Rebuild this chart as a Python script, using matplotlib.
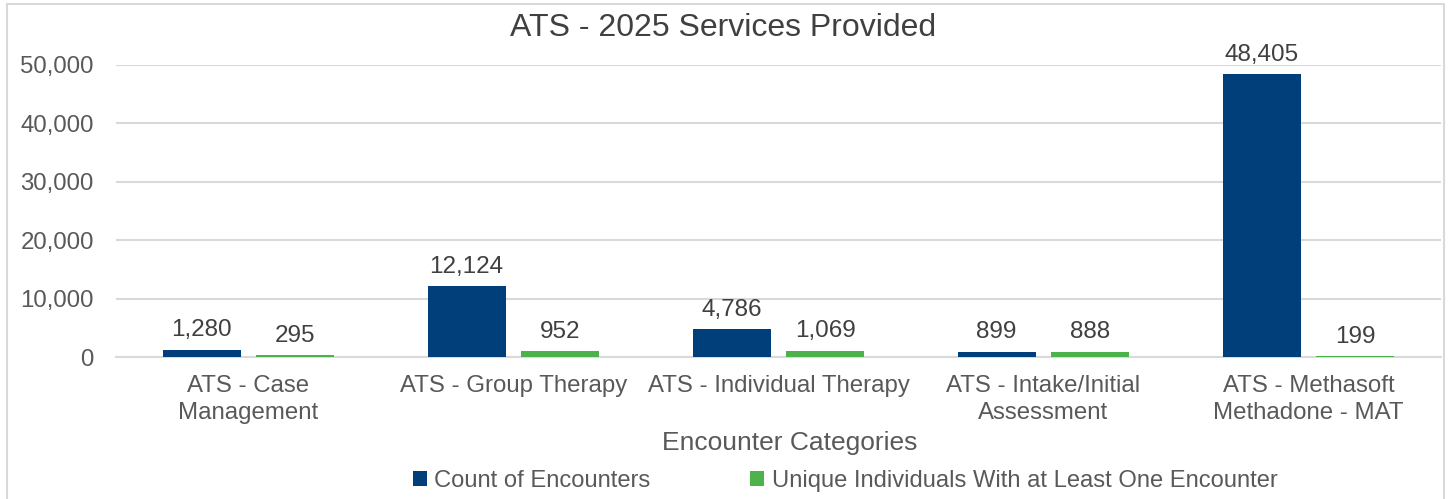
import matplotlib.pyplot as plt
from matplotlib.patches import Rectangle
import numpy as np

plt.rcParams["font.family"] = ["Liberation Sans", "DejaVu Sans"]

categorias = ["ATS - Case\nManagement", "ATS - Group Therapy", "ATS - Individual Therapy",
              "ATS - Intake/Initial\nAssessment", "ATS - Methasoft\nMethadone - MAT"]
encontros = [1280, 12124, 4786, 899, 48405]
individuos = [295, 952, 1069, 888, 199]
serie_nomes = ["Count of Encounters", "Unique Individuals With at Least One Encounter"]

W, H = 1448, 499
fig = plt.figure(figsize=(W / 100, H / 100), dpi=100)
ax = fig.add_axes([116 / W, (H - 357) / H, (1441 - 116) / W, (357 - 65) / H])

# moldura do gráfico
fig.patches.append(Rectangle((7 / W, -0.1), (1444 - 7) / W, 1.1 - 4 / H,
                             transform=fig.transFigure, fill=False,
                             edgecolor="#D9D9D9", lw=1.5))

x = np.arange(len(categorias))
largura = 0.294
desloc = 0.177
azul, verde = "#003F7A", "#4DB24B"
b1 = ax.bar(x - desloc, encontros, largura, color=azul, label=serie_nomes[0], zorder=3)
b2 = ax.bar(x + desloc, individuos, largura, color=verde, label=serie_nomes[1], zorder=3)

for barras, vals in ((b1, encontros), (b2, individuos)):
    for r, v in zip(barras, vals):
        ax.annotate(f"{v:,}", (r.get_x() + r.get_width() / 2, r.get_height()),
                    xytext=(0, 6), textcoords="offset points", ha="center", va="bottom",
                    fontsize=17.5, color="#404040")

ax.set_xlim(-0.5, len(categorias) - 0.5)
ax.set_ylim(0, 50000)
ax.set_yticks(range(0, 50001, 10000))
ax.yaxis.set_major_formatter(plt.FuncFormatter(lambda v, p: f"{int(v):,}"))
ax.set_xticks(x)
ax.set_xticklabels(categorias, linespacing=1.32)
ax.tick_params(axis="both", length=0, labelsize=17.3, labelcolor="#595959")
ax.tick_params(axis="x", pad=13)
ax.tick_params(axis="y", pad=16)
ax.grid(axis="y", color="#D9D9D9", lw=1.5, zorder=0)
for s in ["top", "right", "left"]:
    ax.spines[s].set_visible(False)
ax.spines["bottom"].set_color("#D9D9D9")
ax.spines["bottom"].set_linewidth(1.5)

fig.text(723 / W, 1 - 28 / H, "ATS - 2025 Services Provided", ha="center", va="center",
         fontsize=23, color="#404040")
fig.text(790 / W, 1 - 443 / H, "Encounter Categories", ha="center", va="center",
         fontsize=19, color="#595959")

fig.legend(loc="center", bbox_to_anchor=(845 / W, 1 - 481 / H), ncol=2, frameon=False,
           fontsize=17.1, labelcolor="#595959", handlelength=0.6, handleheight=0.6,
           handletextpad=0.3, columnspacing=4.2)

fig.savefig("out.png", dpi=100)
